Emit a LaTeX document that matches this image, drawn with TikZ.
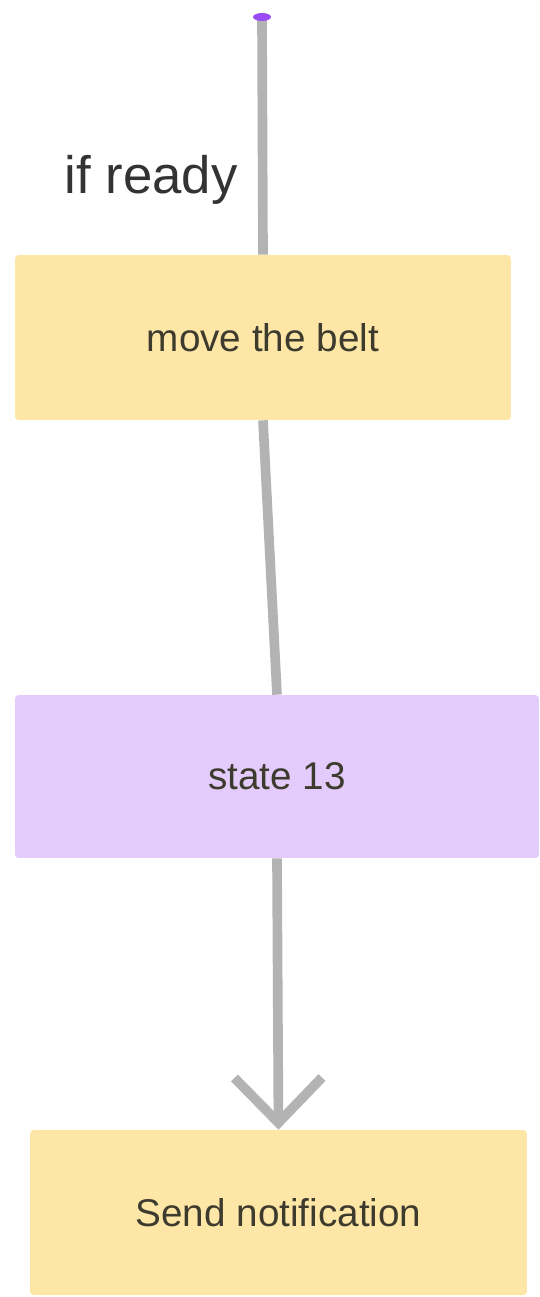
\documentclass[tikz,border=0pt]{standalone}
\usepackage{fontspec}
\setmainfont{Liberation Sans}
\usetikzlibrary{arrows.meta}
\definecolor{stepyellow}{RGB}{254,231,166}
\definecolor{steppurple}{RGB}{227,204,251}
\definecolor{flowgray}{RGB}{179,179,179}
\definecolor{dotpurple}{RGB}{155,77,245}
\definecolor{labeltext}{RGB}{61,58,46}
\tikzset{
  stepbox/.style={rounded corners=2pt,minimum height=3.3cm,inner sep=0pt,
    font=\fontsize{22}{26}\selectfont,text=labeltext},
  flow/.style={draw=flowgray,line width=5.5pt}
}
\begin{document}
\begin{tikzpicture}[x=0.02cm,y=-0.02cm]
			\useasboundingbox (0,0) rectangle (539,1297);
			\begin{scope}
				\coordinate (start) at (262,17);
				\node[stepbox,fill=stepyellow,minimum width=9.92cm] (belt) at (263,337.5) {move the belt};
				\node[stepbox,fill=steppurple,minimum width=10.48cm,minimum height=3.26cm] (state) at (277,776.5) {state 13};
				\node[stepbox,fill=stepyellow,minimum width=9.94cm] (notify) at (278.5,1212.5) {Send notification};
			\end{scope}
			%			connectors
			\begin{scope}
				\path[flow] (start)--(belt.north);
				\fill[dotpurple] (start) ellipse (9 and 4);
				\node[font=\fontsize{30}{34}\selectfont,text=black!80] (ready) at (151,180) {if ready};
				\path[flow] (belt.south)--(state.north);
				\path[flow,-{Straight Barb[length=0.9cm,width=1.75cm]}] (state.south)--(notify.north);
			\end{scope}
		\end{tikzpicture}
\end{document}
